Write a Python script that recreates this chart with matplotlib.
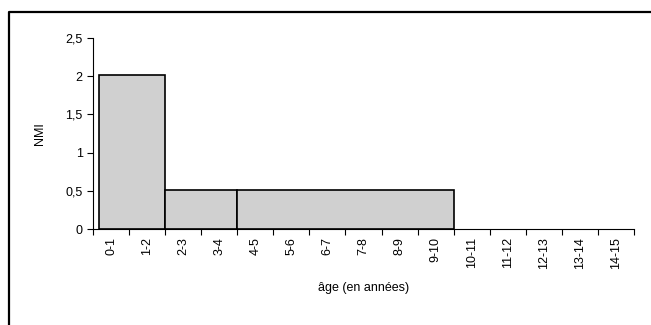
import numpy as np
import matplotlib.pyplot as plt
from matplotlib.lines import Line2D

# classes d'âge (axe x)
classes = ["0-1", "1-2", "2-3", "3-4", "4-5", "5-6", "6-7", "7-8", "8-9",
           "9-10", "10-11", "11-12", "12-13", "13-14", "14-15"]
# histogramme : bornes des intervalles et hauteurs (NMI)
bornes = [0.17, 2, 4, 10]
nmi = [2.02, 0.51, 0.51]
y_ticks = [0, 0.5, 1, 1.5, 2, 2.5]
y_labels = ["0", "0,5", "1", "1,5", "2", "2,5"]

plt.rcParams['font.family'] = ['Liberation Sans', 'DejaVu Sans']

fig = plt.figure(figsize=(6.51, 3.25), dpi=100)
ax = fig.add_axes([93 / 651, 96 / 325, (634 - 93) / 651, (229 - 38) / 325])

gauche = np.array(bornes[:-1])
largeur = np.diff(bornes)
ax.bar(gauche, nmi, width=largeur, align='edge', color='#d0d0d0',
       edgecolor='black', linewidth=1.2)

ax.set_xlim(0, len(classes))
ax.set_ylim(0, 2.5)
ax.set_xticks(np.arange(len(classes) + 1))
ax.set_xticklabels([])
ax.set_xticks(np.arange(len(classes)) + 0.5, minor=True)
ax.set_xticklabels(classes, minor=True, rotation=90, fontsize=9)
ax.tick_params(axis='x', which='minor', length=0, pad=6)
ax.tick_params(axis='x', which='major', length=4, width=0.8, direction='out')
ax.set_yticks(y_ticks)
ax.set_yticklabels(y_labels, fontsize=9)
ax.tick_params(axis='y', length=4, width=0.8, direction='out')

for s in ['top', 'right']:
    ax.spines[s].set_visible(False)
for s in ['left', 'bottom']:
    ax.spines[s].set_linewidth(0.8)

ax.set_xlabel("âge (en années)", fontsize=9, labelpad=9)
ax.set_ylabel("NMI", fontsize=9, labelpad=14)

# cadre (haut et gauche visibles)
fig.add_artist(Line2D([8.5 / 651, 8.5 / 651, 1.0], [0, 1 - 11.5 / 325, 1 - 11.5 / 325],
                      transform=fig.transFigure, color='black', linewidth=1.6))

fig.savefig("out.png", dpi=100)
